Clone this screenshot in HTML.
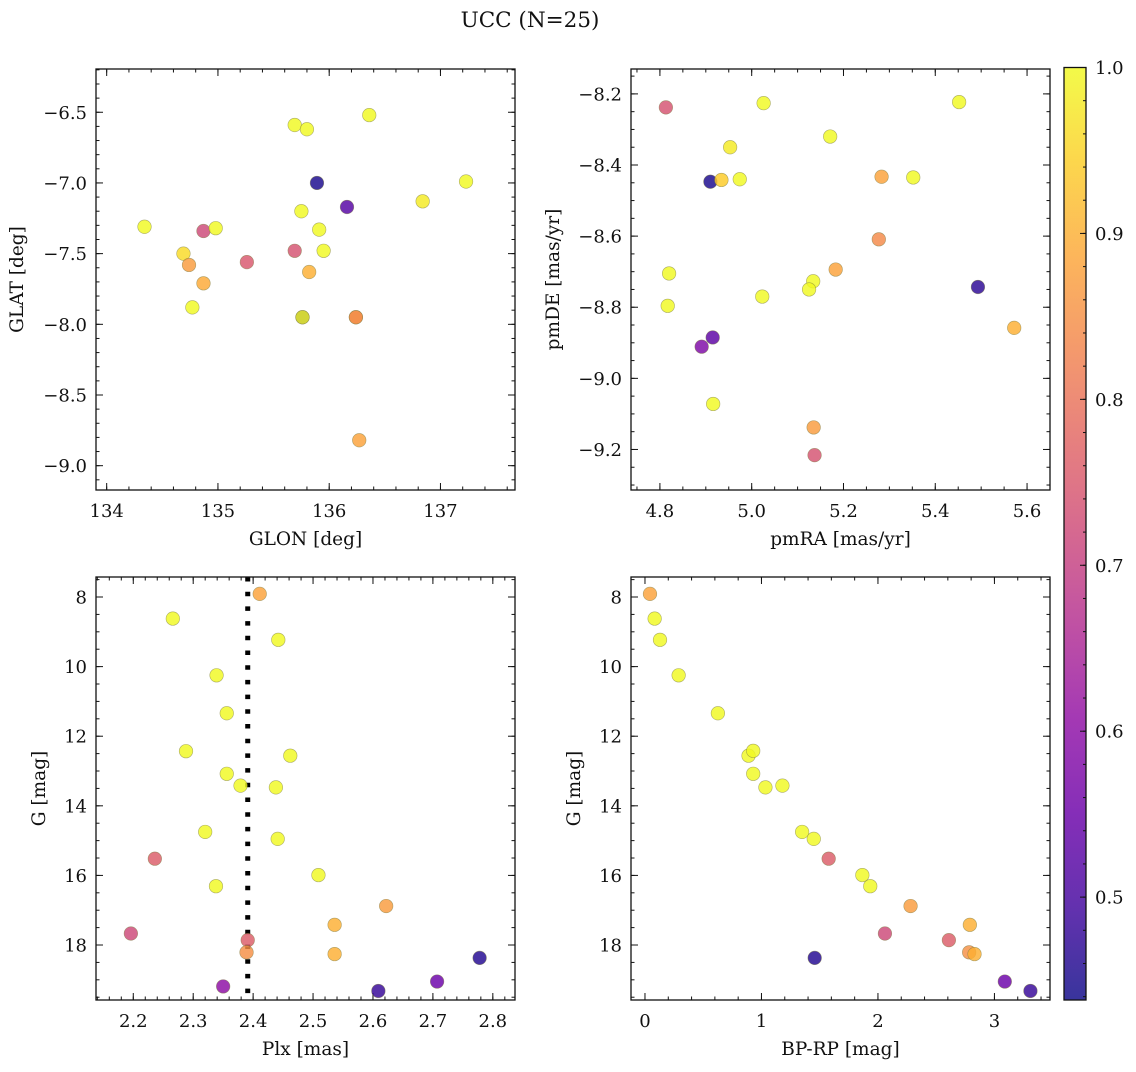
<!DOCTYPE html>
<html><head><meta charset="utf-8">
<style>
html,body{margin:0;padding:0;background:#fff;}
svg text{font-family:"DejaVu Serif","Liberation Serif",serif;fill:#111;}
</style></head>
<body>
<svg id="fig" width="1136" height="1067" viewBox="0 0 1136 1067" xmlns="http://www.w3.org/2000/svg">
<text x="530" y="27" font-size="21.5" text-anchor="middle">UCC (N=25)</text>
</svg>
<script>
// ---- data (each panel: x values, y values, membership probability) ----
const glon = [134.34,134.87,134.98,134.69,134.74,134.87,134.77,135.26,135.69,135.80,136.36,135.89,136.16,137.23,136.84,135.75,135.91,135.95,135.69,135.82,135.76,135.76,136.24,136.24,136.27];
const glat = [-7.31,-7.34,-7.32,-7.50,-7.58,-7.71,-7.88,-7.56,-6.59,-6.62,-6.52,-7.00,-7.17,-6.99,-7.13,-7.20,-7.33,-7.48,-7.48,-7.63,-7.95,-7.95,-7.95,-7.95,-8.82];
const probA = [1.0,0.72,1.0,0.96,0.87,0.89,1.0,0.75,1.0,1.0,1.0,0.45,0.52,1.0,0.98,1.0,1.0,1.0,0.74,0.9,0.46,1.0,0.76,0.86,0.88];

const pmra = [4.813,5.026,5.452,5.171,4.953,4.910,4.934,4.974,5.283,5.352,5.277,4.820,4.817,5.183,5.134,5.125,5.023,5.493,5.572,4.915,4.891,4.916,5.135,5.137];
const pmde = [-8.238,-8.226,-8.223,-8.320,-8.350,-8.447,-8.442,-8.440,-8.433,-8.435,-8.609,-8.705,-8.796,-8.694,-8.727,-8.750,-8.770,-8.743,-8.858,-8.885,-8.911,-9.072,-9.138,-9.216];
const probB = [0.74,1.0,1.0,1.0,0.98,0.45,0.94,1.0,0.88,1.0,0.84,1.0,1.0,0.88,1.0,1.0,1.0,0.47,0.9,0.53,0.58,1.0,0.87,0.74];

const plx = [2.411,2.266,2.442,2.339,2.356,2.288,2.462,2.356,2.379,2.438,2.320,2.441,2.236,2.509,2.338,2.622,2.536,2.196,2.391,2.389,2.536,2.778,2.707,2.350,2.609];
const gmag = [7.91,8.62,9.23,10.25,11.34,12.43,12.56,13.08,13.42,13.47,14.75,14.95,15.52,15.99,16.31,16.88,17.42,17.67,17.86,18.21,18.26,18.37,19.05,19.19,19.32];
const probC = [0.88,1.0,1.0,1.0,1.0,1.0,1.0,1.0,1.0,1.0,1.0,1.0,0.76,1.0,1.0,0.87,0.9,0.72,0.76,0.85,0.9,0.46,0.55,0.6,0.48];
const plxLine = 2.391;

const bprp = [0.043,0.083,0.129,0.289,0.626,0.889,0.929,0.929,1.034,1.180,1.349,1.449,1.577,1.866,1.934,2.28,2.789,2.06,2.609,2.783,2.829,1.457,3.089,3.309];
const gmagD = [7.91,8.62,9.23,10.25,11.34,12.56,12.42,13.08,13.47,13.42,14.75,14.95,15.52,15.99,16.31,16.88,17.42,17.67,17.86,18.21,18.26,18.37,19.05,19.32];
const probD = [0.88,1.0,1.0,1.0,1.0,1.0,1.0,1.0,1.0,1.0,1.0,1.0,0.76,1.0,1.0,0.87,0.9,0.72,0.76,0.85,0.9,0.46,0.55,0.48];

const cbTicks = [0.5,0.6,0.7,0.8,0.9,1.0];
const vmin = 0.438, vmax = 1.0;

// ---- plasma colormap ----
const plasma = ["#0d0887","#41049d","#6a00a8","#8f0da4","#b12a90","#cc4778","#e16462","#f2844b","#fca636","#fcce25","#f0f921"];
function hex(h){return [1,3,5].map(i=>parseInt(h.substr(i,2),16));}
function cmap(t){
  t=Math.max(0,Math.min(1,t));
  const p=t*10, i=Math.min(9,Math.floor(p)), f=p-i;
  const a=hex(plasma[i]), b=hex(plasma[i+1]);
  return "rgb("+a.map((v,k)=>Math.round(v+(b[k]-v)*f)).join(",")+")";
}
function colorOf(v){return cmap((v-vmin)/(vmax-vmin));}

const NS="http://www.w3.org/2000/svg";
const svg=document.getElementById("fig");
const TICKFS=18, LABFS=18.5;
function el(tag,attrs,parent){
  const e=document.createElementNS(NS,tag);
  for(const k in attrs) e.setAttribute(k,attrs[k]);
  (parent||svg).appendChild(e);return e;
}
function fmt(v,dec){const s=v.toFixed(dec);return v<0?"\u2212"+s.slice(1):s;}

function panel(o){
  const g=el("g",{});
  
  
  const sx=v=>o.L+(v-o.x0)/(o.x1-o.x0)*(o.R-o.L);
  const sy=o.invertY ? (v=>o.T+(v-o.y0)/(o.y1-o.y0)*(o.B-o.T)) : (v=>o.B-(v-o.y0)/(o.y1-o.y0)*(o.B-o.T));
  function xt(v,len){const x=sx(v);if(x<o.L-0.5||x>o.R+0.5)return;
    el("line",{x1:x,x2:x,y1:o.B,y2:o.B-len,stroke:"#111","stroke-width":1},g);
    el("line",{x1:x,x2:x,y1:o.T,y2:o.T+len,stroke:"#111","stroke-width":1},g);}
  function yt(v,len){const y=sy(v);if(y<o.T-0.5||y>o.B+0.5)return;
    el("line",{x1:o.L,x2:o.L+len,y1:y,y2:y,stroke:"#111","stroke-width":1},g);
    el("line",{x1:o.R,x2:o.R-len,y1:y,y2:y,stroke:"#111","stroke-width":1},g);}
  const xmin=Math.min(o.x0,o.x1), xmax=Math.max(o.x0,o.x1);
  for(let v=Math.ceil(xmin/o.xm)*o.xm; v<=xmax; v+=o.xm) xt(v,3.5);
  const ymin=Math.min(o.y0,o.y1), ymax=Math.max(o.y0,o.y1);
  for(let v=Math.ceil(ymin/o.ym)*o.ym; v<=ymax; v+=o.ym) yt(v,3.5);
  o.xticks.forEach(v=>{xt(v,7);
    const t=el("text",{x:sx(v),y:o.B+27,"font-size":TICKFS,"text-anchor":"middle"},g);t.textContent=fmt(v,o.xdec);
    
    });
  o.yticks.forEach(v=>{yt(v,7);
    const t=el("text",{x:o.L-9,y:sy(v)+6.5,"font-size":TICKFS,"text-anchor":"end"},g);t.textContent=fmt(v,o.ydec);
    
    });
  const xl=el("text",{x:(o.L+o.R)/2,y:o.B+55,"font-size":LABFS,"text-anchor":"middle"},g);xl.textContent=o.xlabel;
  
  
  const yl=el("text",{x:0,y:0,"font-size":LABFS,"text-anchor":"middle",transform:`translate(${o.ylx},${(o.T+o.B)/2}) rotate(-90)`},g);yl.textContent=o.ylabel;
  
  
  if(o.vline!==undefined){
    const ln=el("line",{x1:sx(o.vline),x2:sx(o.vline),y1:o.T,y2:o.B,stroke:"#000","stroke-width":5,"stroke-dasharray":"4.5 10.2"},g);
    
    
  }
  const cg=el("g",{},g);
  o.xs.forEach((xv,i)=>{
    const c=el("circle",{cx:sx(xv),cy:sy(o.ys[i]),r:6.8,fill:colorOf(o.cs[i]),"fill-opacity":0.82,stroke:"#7a7a40","stroke-opacity":0.6,"stroke-width":0.6},cg);
    
    
  });
  const fr=el("rect",{x:o.L,y:o.T,width:o.R-o.L,height:o.B-o.T,fill:"none",stroke:"#111","stroke-width":1.3},g);
  
  
}

panel({name:"glon-glat-panel",L:96,R:515,T:69,B:490,x0:133.904,x1:137.67,y0:-9.172,y1:-6.194,
  xticks:[134,135,136,137],yticks:[-9,-8.5,-8,-7.5,-7,-6.5],xm:0.2,ym:0.1,xdec:0,ydec:1,
  xlabel:"GLON [deg]",ylabel:"GLAT [deg]",ylx:23,xs:glon,ys:glat,cs:probA});
panel({name:"pm-panel",L:631,R:1050,T:69,B:490,x0:4.737,x1:5.650,y0:-9.314,y1:-8.130,
  xticks:[4.8,5.0,5.2,5.4,5.6],yticks:[-9.2,-9.0,-8.8,-8.6,-8.4,-8.2],xm:0.05,ym:0.05,xdec:1,ydec:1,
  xlabel:"pmRA [mas/yr]",ylabel:"pmDE [mas/yr]",ylx:559,xs:pmra,ys:pmde,cs:probB});
panel({name:"plx-g-panel",L:96,R:515,T:577,B:1000,x0:2.1378,x1:2.837,y0:7.425,y1:19.58,invertY:true,
  xticks:[2.2,2.3,2.4,2.5,2.6,2.7,2.8],yticks:[8,10,12,14,16,18],xm:0.02,ym:0.5,xdec:1,ydec:0,
  xlabel:"Plx [mas]",ylabel:"G [mag]",ylx:45,xs:plx,ys:gmag,cs:probC,vline:plxLine});
panel({name:"cmd-panel",L:631,R:1050,T:577,B:1000,x0:-0.12,x1:3.477,y0:7.425,y1:19.58,invertY:true,
  xticks:[0,1,2,3],yticks:[8,10,12,14,16,18],xm:0.2,ym:0.5,xdec:0,ydec:0,
  xlabel:"BP-RP [mag]",ylabel:"G [mag]",ylx:580,xs:bprp,ys:gmagD,cs:probD});

// ---- colorbar ----
(function(){
  const L=1064,R=1086,T=67.5,B=1000;
  const g=el("g",{});
  
  
  const defs=el("defs",{},g);
  const lg=el("linearGradient",{id:"cbg",x1:0,y1:1,x2:0,y2:0},defs);
  for(let i=0;i<=20;i++){const t=i/20;el("stop",{offset:t,"stop-color":cmap(t)},lg);}
  el("rect",{x:L,y:T,width:R-L,height:B-T,fill:"url(#cbg)","fill-opacity":0.82},g);
  const sy=v=>B-(v-vmin)/(vmax-vmin)*(B-T);
  for(let v=0.44;v<=1.0001;v+=0.02){const y=sy(v);el("line",{x1:R,x2:R-3,y1:y,y2:y,stroke:"#111"},g);}
  cbTicks.forEach(v=>{const y=sy(v);el("line",{x1:R,x2:R-6,y1:y,y2:y,stroke:"#111"},g);
    const t=el("text",{x:R+9,y:y+6.5,"font-size":TICKFS},g);t.textContent=v.toFixed(1);
    
    });
  el("rect",{x:L,y:T,width:R-L,height:B-T,fill:"none",stroke:"#111","stroke-width":1.3},g);
})();
</script>
</body></html>
